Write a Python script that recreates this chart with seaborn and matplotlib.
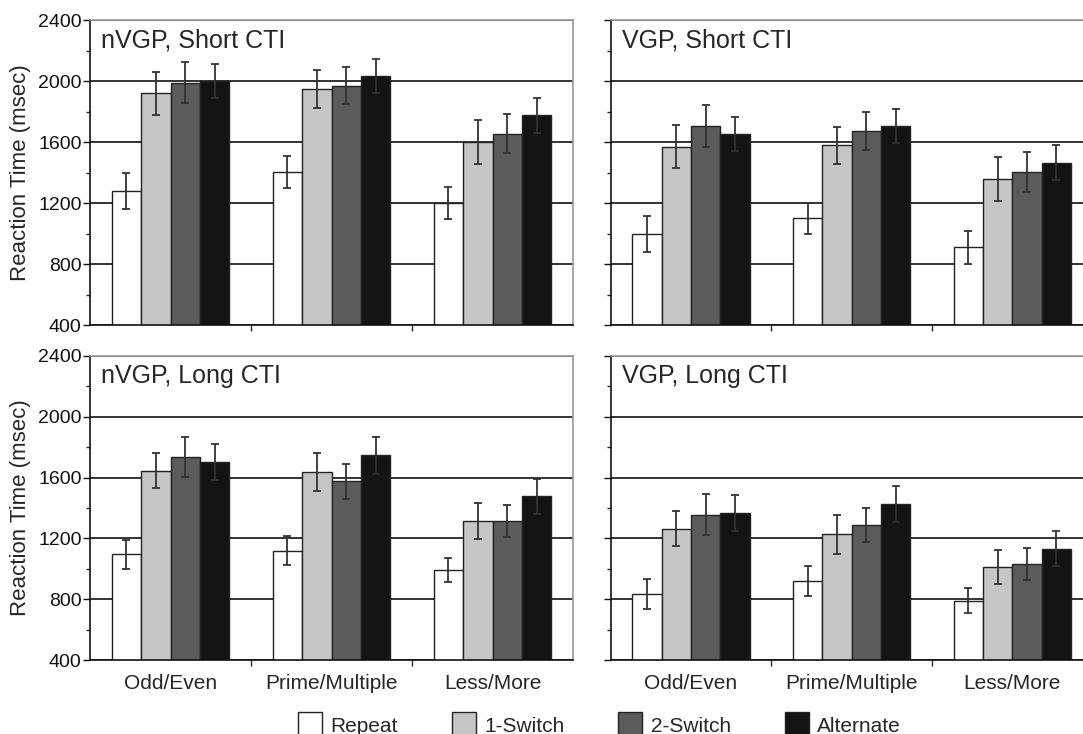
import pandas as pd
import matplotlib.pyplot as plt
import seaborn as sns
from matplotlib.patches import Patch
from matplotlib.ticker import MultipleLocator

sns.set_style('ticks')
plt.rcParams['font.family'] = ['Liberation Sans', 'DejaVu Sans']

tasks = ['Odd/Even', 'Prime/Multiple', 'Less/More']
conditions = ['Repeat', '1-Switch', '2-Switch', 'Alternate']
colors = ['#ffffff', '#c5c6c5', '#5a5b5a', '#121412']

# mean reaction times, rows = task, columns = condition
nvgp_short = [[1280, 1920, 1990, 2000], [1405, 1950, 1970, 2035], [1200, 1600, 1655, 1775]]
nvgp_short_err = [[118, 140, 137, 112], [105, 125, 120, 112], [102, 147, 130, 116]]
vgp_short = [[995, 1570, 1705, 1655], [1100, 1580, 1675, 1705], [910, 1360, 1405, 1465]]
vgp_short_err = [[118, 139, 137, 112], [102, 121, 124, 111], [107, 145, 132, 115]]
nvgp_long = [[1095, 1645, 1735, 1700], [1120, 1635, 1575, 1745], [995, 1315, 1315, 1477]]
nvgp_long_err = [[98, 115, 133, 118], [96, 126, 113, 120], [78, 116, 105, 116]]
vgp_long = [[835, 1265, 1355, 1368], [922, 1228, 1287, 1425], [791, 1014, 1033, 1134]]
vgp_long_err = [[98, 116, 135, 120], [98, 129, 112, 120], [83, 111, 105, 116]]

panels = [
    ('nVGP, Short CTI', nvgp_short, nvgp_short_err),
    ('VGP, Short CTI', vgp_short, vgp_short_err),
    ('nVGP, Long CTI', nvgp_long, nvgp_long_err),
    ('VGP, Long CTI', vgp_long, vgp_long_err),
]

rects = [
    [0.0831, 0.5572, 0.446, 0.4155],
    [0.5639, 0.5572, 0.445, 0.4155],
    [0.0831, 0.1004, 0.446, 0.415],
    [0.5639, 0.1004, 0.445, 0.415],
]

fig = plt.figure(figsize=(10.83, 7.34), dpi=100)

for k, (title, means, errs) in enumerate(panels):
    ax = fig.add_axes(rects[k])
    rows = []
    for i, t in enumerate(tasks):
        for j, c in enumerate(conditions):
            rows.append({'task': t, 'condition': c, 'rt': means[i][j], 'err': errs[i][j]})
    df = pd.DataFrame(rows)

    ax.set_axisbelow(True)
    sns.barplot(data=df, x='task', y='rt', hue='condition', order=tasks,
                hue_order=conditions, palette=colors, saturation=1, width=0.73,
                edgecolor='#222222', linewidth=1, errorbar=None, legend=False, ax=ax)

    # error bars on the bar centres
    for j, c in enumerate(conditions):
        bars = ax.containers[j]
        sub = df[df['condition'] == c].set_index('task').loc[tasks]
        xs = [b.get_x() + b.get_width() / 2 for b in bars]
        ax.errorbar(xs, sub['rt'].values, yerr=sub['err'].values, fmt='none',
                    ecolor='#333333', elinewidth=1.3, capsize=2.8, capthick=1.3, zorder=3)

    ax.set_ylim(400, 2400)
    ax.set_xlim(-0.5, 2.5)
    ax.set_yticks(range(400, 2401, 400))
    ax.yaxis.set_minor_locator(MultipleLocator(200))
    ax.yaxis.grid(True, which='major', color='#111111', linewidth=1.2)
    ax.tick_params(axis='y', which='major', length=5, width=1, pad=1, labelsize=14, colors='#111111')
    ax.tick_params(axis='y', which='minor', length=3, width=1)

    ax.set_xticks([0, 1, 2])
    ax.set_xticks([0.5, 1.5], minor=True)
    ax.tick_params(axis='x', which='major', length=0, pad=10, labelsize=15)
    ax.tick_params(axis='x', which='minor', length=4, width=1)

    for side in ['left', 'bottom']:
        ax.spines[side].set_color('#111111')
        ax.spines[side].set_linewidth(1.2)
    for side in ['top', 'right']:
        ax.spines[side].set_visible(True)
        ax.spines[side].set_color('#999999')
        ax.spines[side].set_linewidth(1.2)

    ax.set_xlabel('')
    if k % 2 == 0:
        ax.set_ylabel('Reaction Time (msec)', fontsize=16, labelpad=5)
    else:
        ax.set_ylabel('')
        ax.tick_params(axis='y', labelleft=False)
    if k < 2:
        ax.tick_params(axis='x', labelbottom=False)

    ax.text(0.023, 0.972, title, transform=ax.transAxes, fontsize=18, va='top', ha='left')

handles = [Patch(facecolor=col, edgecolor='#222222', linewidth=1, label=c)
           for c, col in zip(conditions, colors)]
fig.legend(handles=handles, loc='upper left', bbox_to_anchor=(0.275, 0.0295), ncol=4,
           frameon=False, fontsize=15, handlelength=1.15, handleheight=1.5,
           handletextpad=0.4, columnspacing=2.6, borderpad=0, borderaxespad=0)

fig.savefig('out.png', dpi=100)
